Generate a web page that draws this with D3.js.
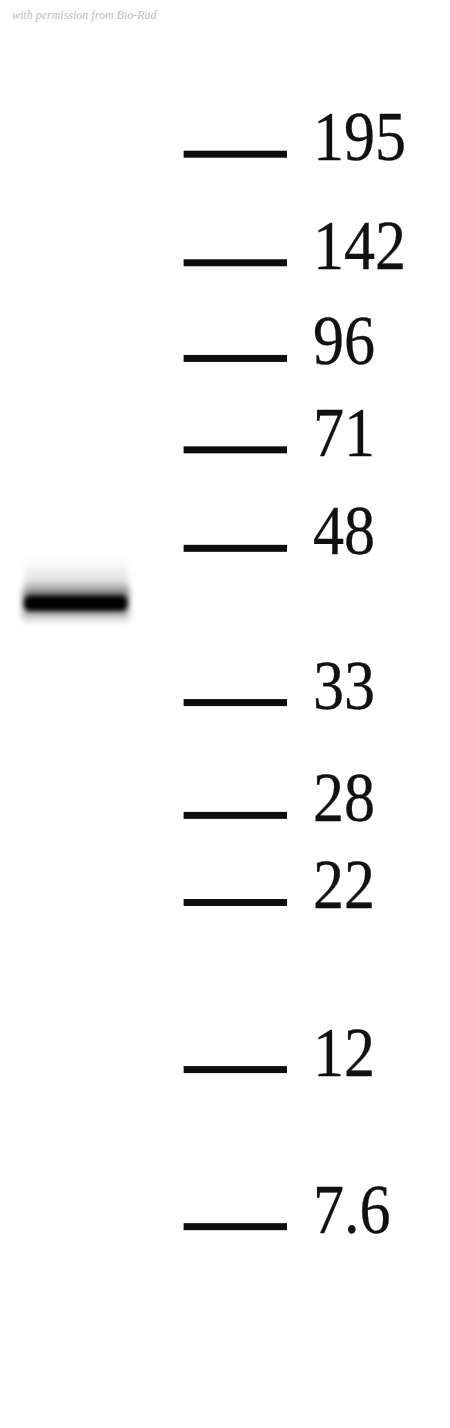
<!DOCTYPE html>
<html>
<head>
<meta charset="utf-8">
<script src="https://cdn.jsdelivr.net/npm/d3@7"></script>
<style>
  html, body { margin: 0; padding: 0; background: #fff; }
  svg { display: block; }
</style>
</head>
<body>
<svg id="blot"></svg>
<script>
const WIDTH = 450;
const HEIGHT = 1428;

const markerKDa = [195, 142, 96, 71, 48, 33, 28, 22, 12, 7.6];
const markerLabels = ['195', '142', '96', '71', '48', '33', '28', '22', '12', '7.6'];
const markerRf = [0.108, 0.184, 0.251, 0.315, 0.384, 0.492, 0.571, 0.632, 0.749, 0.859];

// detected band in the sample lane
const lanes = ['Sample', 'Marker'];
const bandKDa = [42];
const bandIntensity = [1];

const credit = 'with permission from Bio-Rad';

const svg = d3.select('#blot')
  .attr('width', WIDTH)
  .attr('height', HEIGHT);

const defs = svg.append('defs');
function blur(id, sd) {
  defs.append('filter').attr('id', id)
    .attr('filterUnits', 'userSpaceOnUse')
    .attr('x', 0).attr('y', 0).attr('width', WIDTH).attr('height', HEIGHT)
    .append('feGaussianBlur').attr('stdDeviation', sd);
}
blur('soft', '0.7');
blur('blur-core', '2.4 2.6');
blur('blur-smear', '3 5');

const smearGrad = defs.append('linearGradient').attr('id', 'smear-grad')
  .attr('x1', 0).attr('y1', 0).attr('x2', 0).attr('y2', 1);
smearGrad.append('stop').attr('offset', 0).attr('stop-color', '#000').attr('stop-opacity', 0);
smearGrad.append('stop').attr('offset', 0.45).attr('stop-color', '#000').attr('stop-opacity', 0.09);
smearGrad.append('stop').attr('offset', 1).attr('stop-color', '#000').attr('stop-opacity', 0.32);

// Rf -> pixel, then kDa -> pixel through the ladder (piecewise log)
const rfScale = d3.scaleLinear().domain([0, 1]).range([0, HEIGHT]);
const y = d3.scaleLog()
  .domain(markerKDa)
  .range(markerRf.map(rfScale));

const x = d3.scaleBand()
  .domain(lanes)
  .range([22, 287])
  .paddingInner(0.36)
  .paddingOuter(0);

svg.append('text')
  .attr('x', 12)
  .attr('y', 19)
  .attr('font-family', 'Liberation Serif, serif')
  .attr('font-style', 'italic')
  .attr('font-size', 12)
  .attr('fill', '#bdbdbd')
  .text(credit);

// marker ticks
const markers = svg.append('g').attr('class', 'markers');
markers.selectAll('rect')
  .data(markerKDa)
  .join('rect')
  .attr('x', x('Marker'))
  .attr('width', x.bandwidth())
  .attr('y', d => y(d) - 3.5)
  .attr('height', 7)
  .attr('fill', '#111')
  .attr('filter', 'url(#soft)');

const labelX = x('Marker') + x.bandwidth() + 26;
markers.selectAll('text')
  .data(markerKDa)
  .join('text')
  .attr('transform', d => `translate(${labelX}, ${y(d) + 6}) scale(0.9, 1)`)
  .attr('font-family', 'Liberation Serif, Times New Roman, serif')
  .attr('font-size', 69)
  .attr('fill', '#111')
  .attr('stroke', '#111')
  .attr('stroke-width', 0.3)
  .text((d, i) => markerLabels[i]);

// sample band: faint smear above, dark core
const band = svg.append('g').attr('class', 'band');
const bx = x('Sample');
const bw = x.bandwidth() + 4;

band.selectAll('rect.smear')
  .data(bandKDa)
  .join('rect')
  .attr('class', 'smear')
  .attr('x', bx + 3)
  .attr('width', bw - 4)
  .attr('y', d => y(d) - 44)
  .attr('height', 40)
  .attr('fill', 'url(#smear-grad)')
  .attr('opacity', (d, i) => bandIntensity[i])
  .attr('filter', 'url(#blur-smear)');

band.selectAll('rect.halo')
  .data(bandKDa)
  .join('rect')
  .attr('class', 'halo')
  .attr('x', bx)
  .attr('width', bw)
  .attr('y', d => y(d) - 15)
  .attr('height', 30)
  .attr('fill', '#000')
  .attr('opacity', (d, i) => 0.32 * bandIntensity[i])
  .attr('filter', 'url(#blur-smear)');

band.selectAll('rect.core')
  .data(bandKDa)
  .join('rect')
  .attr('class', 'core')
  .attr('x', bx + 2)
  .attr('width', bw - 4)
  .attr('y', d => y(d) - 8)
  .attr('height', 16)
  .attr('rx', 6)
  .attr('fill', '#050505')
  .attr('opacity', (d, i) => bandIntensity[i])
  .attr('filter', 'url(#blur-core)');
</script>
</body>
</html>
